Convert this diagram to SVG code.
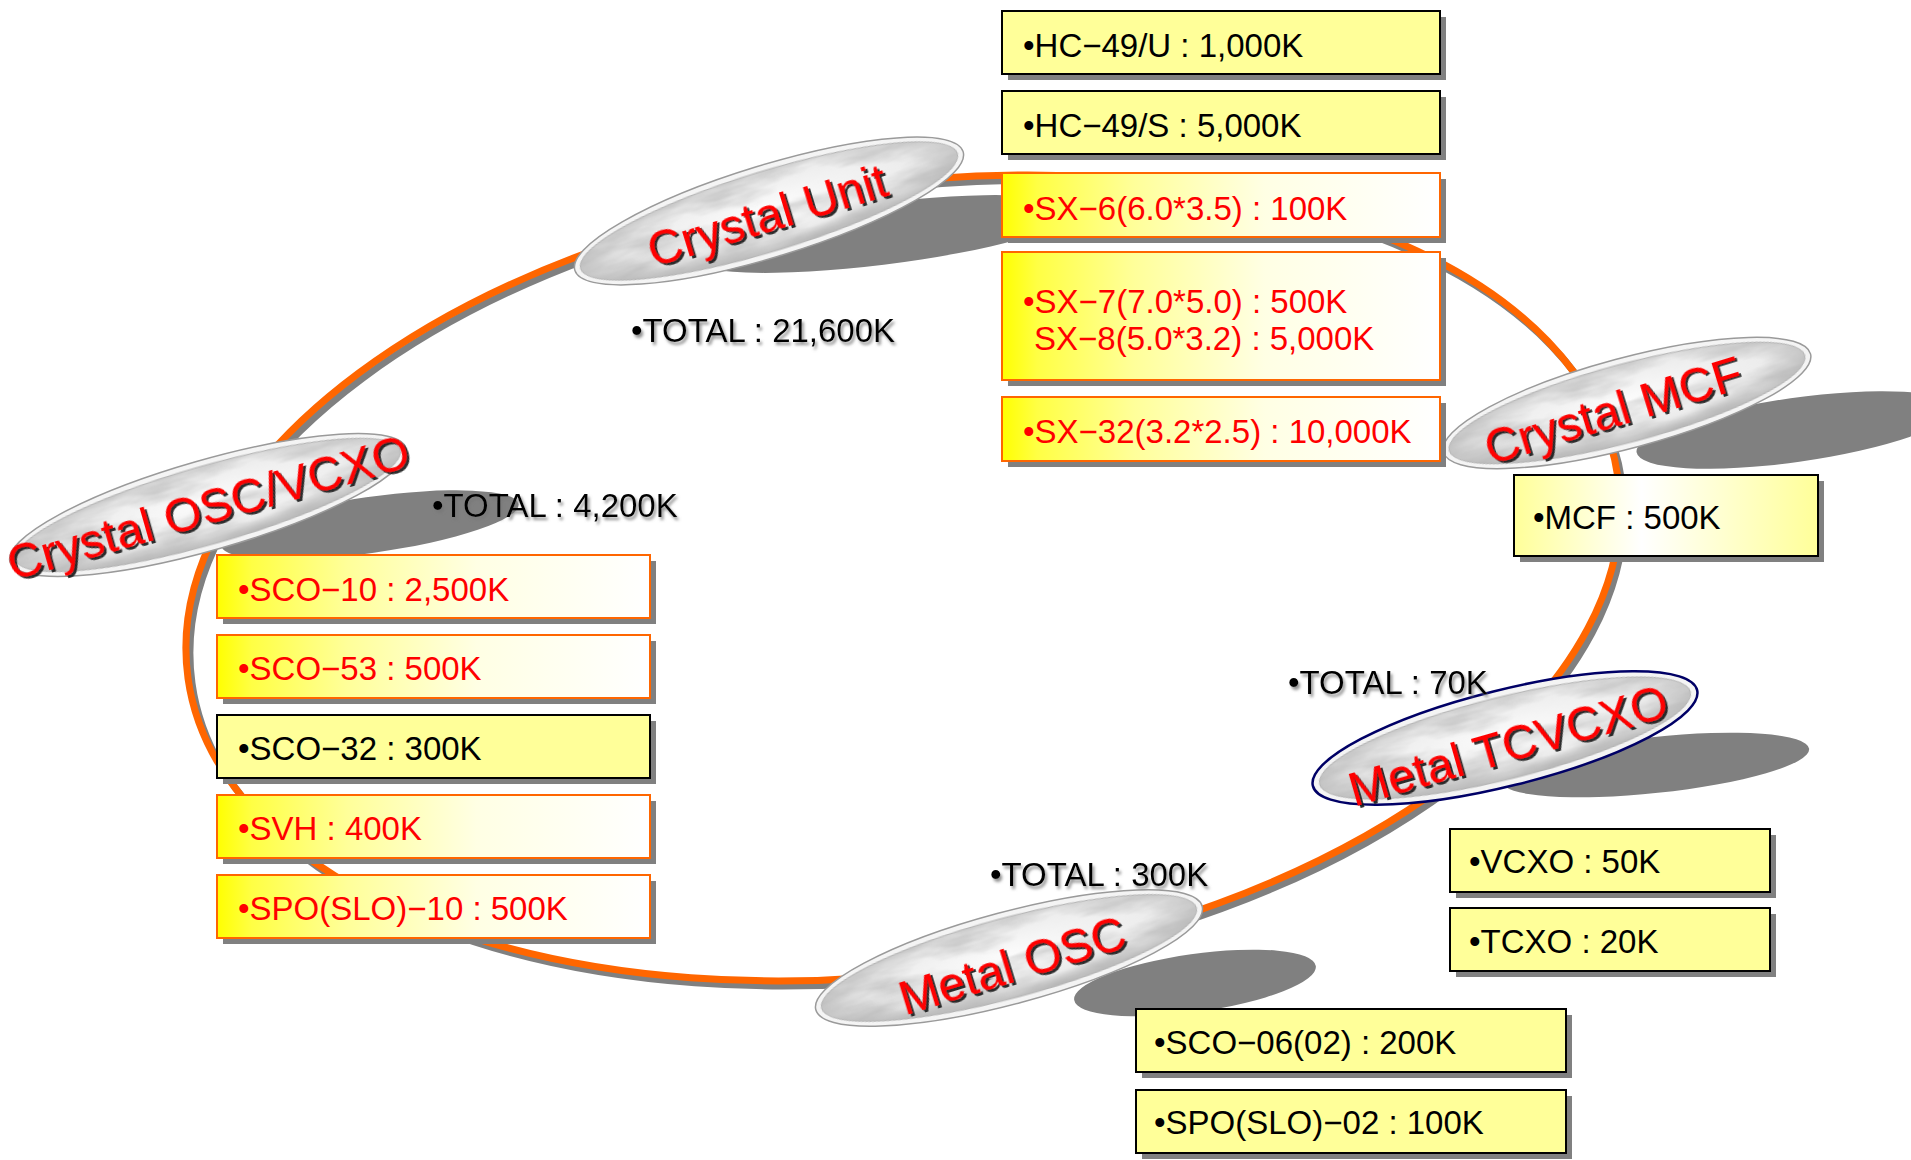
<svg xmlns="http://www.w3.org/2000/svg" width="1911" height="1160" viewBox="0 0 1911 1160">
<style>
.t{font-family:"Liberation Sans",Arial,sans-serif;font-size:33px}
.r{fill:#FF0000}
.k{fill:#000000}
.nt{font-family:"Liberation Sans",Arial,sans-serif;font-size:48px;fill:#FF0000;text-anchor:middle;filter:url(#tsh)}
.tot{font-family:"Liberation Sans",Arial,sans-serif;font-size:33px;fill:#000;filter:url(#soft)}
.bs{fill:#808080}
.by{fill:#FFFF99;stroke:#000;stroke-width:2}
.bo{fill:url(#gOr);stroke:#FF6600;stroke-width:2}
.bm{fill:url(#gMcf);stroke:#000;stroke-width:2}
.esh{fill:#808080}
.rim{fill:#f4f4f4;stroke:#9a9a9a;stroke-width:1.5}
.rimn{fill:#f4f4f4;stroke:#000066;stroke-width:2.5}
.inr{fill:url(#gMarb);stroke:#b4b4b4;stroke-width:1;filter:url(#marble)}
</style>
<defs>
<linearGradient id="gOr" x1="0" y1="0" x2="1" y2="0">
<stop offset="0" stop-color="#FFFF00"/>
<stop offset="0.08" stop-color="#FFFF44"/>
<stop offset="0.3" stop-color="#FFFF99"/>
<stop offset="0.6" stop-color="#FFFFE4"/>
<stop offset="1" stop-color="#FFFFFF"/>
</linearGradient>
<linearGradient id="gMcf" x1="0" y1="0" x2="1" y2="0">
<stop offset="0" stop-color="#FFFF99"/>
<stop offset="0.42" stop-color="#FFFFFF"/>
<stop offset="1" stop-color="#FFFF99"/>
</linearGradient>
<radialGradient id="gMarb" cx="0.5" cy="0.45" r="0.55">
<stop offset="0" stop-color="#fbfbfb"/>
<stop offset="0.7" stop-color="#ececec"/>
<stop offset="1" stop-color="#bdbdbd"/>
</radialGradient>
<filter id="marble" x="-5%" y="-5%" width="110%" height="110%">
<feTurbulence type="fractalNoise" baseFrequency="0.012 0.045" numOctaves="4" seed="7" result="n"/>
<feColorMatrix in="n" type="matrix" values="0 0 0 0 0.45 0 0 0 0 0.45 0 0 0 0 0.45 1.6 0 0 0 -0.62" result="spots"/>
<feComposite in="spots" in2="SourceGraphic" operator="in" result="s2"/>
<feMerge><feMergeNode in="SourceGraphic"/><feMergeNode in="s2"/></feMerge>
</filter>
<filter id="tsh" x="-10%" y="-20%" width="120%" height="150%">
<feOffset in="SourceAlpha" dx="2" dy="2.5" result="o"/>
<feFlood flood-color="#1a1a1a" flood-opacity="0.9"/>
<feComposite in2="o" operator="in" result="sh"/>
<feMerge><feMergeNode in="sh"/><feMergeNode in="SourceGraphic"/></feMerge>
</filter>
<filter id="soft" x="-10%" y="-30%" width="120%" height="170%">
<feGaussianBlur in="SourceAlpha" stdDeviation="1.5" result="b"/>
<feOffset in="b" dx="2" dy="3" result="o"/>
<feFlood flood-color="#777777" flood-opacity="0.8"/>
<feComposite in2="o" operator="in" result="sh"/>
<feMerge><feMergeNode in="sh"/><feMergeNode in="SourceGraphic"/></feMerge>
</filter>
</defs>
<rect width="1911" height="1160" fill="#FFFFFF"/>

<g id="connectors">
<ellipse cx="907" cy="583" rx="722" ry="394" transform="rotate(-8 907 583)" fill="none" stroke="#808080" stroke-width="7"/>
<ellipse cx="903" cy="578" rx="722" ry="394" transform="rotate(-8 903 578)" fill="none" stroke="#FF6600" stroke-width="7"/>
</g>

<g id="shadows">
<ellipse class="esh" cx="880" cy="234" rx="195" ry="31" transform="rotate(-7 880 234)"/>
<ellipse class="esh" cx="370" cy="525" rx="150" ry="28" transform="rotate(-8 370 525)"/>
<ellipse class="esh" cx="1795" cy="430" rx="160" ry="32" transform="rotate(-8 1795 430)"/>
<ellipse class="esh" cx="1655" cy="765" rx="155" ry="28" transform="rotate(-6 1655 765)"/>
<ellipse class="esh" cx="1195" cy="983" rx="122" ry="29" transform="rotate(-8 1195 983)"/>
</g>

<g id="node-crystal-unit">
<g transform="translate(769,211) rotate(-17)">
<ellipse class="rim" rx="203" ry="46"/>
<ellipse class="inr" rx="197" ry="40"/>
</g>
<text class="nt" transform="translate(767,215) rotate(-17)" y="17">Crystal Unit</text>
</g>

<g id="node-crystal-osc">
<g transform="translate(208,505) rotate(-16)">
<ellipse class="rim" rx="206" ry="45"/>
<ellipse class="inr" rx="200" ry="39"/>
</g>
<text class="nt" transform="translate(208,507) rotate(-16)" y="17">Crystal OSC/VCXO</text>
</g>

<g id="node-crystal-mcf">
<g transform="translate(1627,403) rotate(-15)">
<ellipse class="rim" rx="190" ry="45"/>
<ellipse class="inr" rx="184" ry="39"/>
</g>
<text class="nt" transform="translate(1613,410) rotate(-17)" y="17">Crystal MCF</text>
</g>

<g id="node-metal-tcvcxo">
<g transform="translate(1505,738) rotate(-14)">
<ellipse class="rimn" rx="198" ry="48"/>
<ellipse class="inr" rx="191" ry="41"/>
</g>
<text class="nt" transform="translate(1508,745) rotate(-16)" y="17">Metal TCVCXO</text>
</g>

<g id="node-metal-osc">
<g transform="translate(1009,958) rotate(-15)">
<ellipse class="rim" rx="200" ry="46"/>
<ellipse class="inr" rx="194" ry="40"/>
</g>
<text class="nt" transform="translate(1012,965) rotate(-17)" y="17">Metal OSC</text>
</g>

<g id="box-hc49u"><rect class="bs" x="1008" y="17" width="438" height="63"/><rect class="by" x="1002" y="11" width="438" height="63"/><text class="t k" x="1023" y="57">•HC−49/U : 1,000K</text></g>
<g id="box-hc49s"><rect class="bs" x="1008" y="97" width="438" height="63"/><rect class="by" x="1002" y="91" width="438" height="63"/><text class="t k" x="1023" y="137">•HC−49/S : 5,000K</text></g>
<g id="box-sx6"><rect class="bs" x="1008" y="179" width="438" height="64"/><rect class="bo" x="1002" y="173" width="438" height="64"/><text class="t r" x="1023" y="220">•SX−6(6.0*3.5) : 100K</text></g>
<g id="box-sx7"><rect class="bs" x="1008" y="258" width="438" height="128"/><rect class="bo" x="1002" y="252" width="438" height="128"/><text class="t r" x="1023" y="313">•SX−7(7.0*5.0) : 500K</text><text class="t r" x="1034" y="350">SX−8(5.0*3.2) : 5,000K</text></g>
<g id="box-sx32"><rect class="bs" x="1008" y="403" width="438" height="64"/><rect class="bo" x="1002" y="397" width="438" height="64"/><text class="t r" x="1023" y="443">•SX−32(3.2*2.5) : 10,000K</text></g>

<g id="box-mcf"><rect class="bs" x="1520" y="481" width="304" height="81"/><rect class="bm" x="1514" y="475" width="304" height="81"/><text class="t k" x="1533" y="529">•MCF : 500K</text></g>

<g id="box-sco10"><rect class="bs" x="223" y="561" width="433" height="63"/><rect class="bo" x="217" y="555" width="433" height="63"/><text class="t r" x="238" y="601">•SCO−10 : 2,500K</text></g>
<g id="box-sco53"><rect class="bs" x="223" y="641" width="433" height="63"/><rect class="bo" x="217" y="635" width="433" height="63"/><text class="t r" x="238" y="680">•SCO−53 : 500K</text></g>
<g id="box-sco32"><rect class="bs" x="223" y="721" width="433" height="63"/><rect class="by" x="217" y="715" width="433" height="63"/><text class="t k" x="238" y="760">•SCO−32 : 300K</text></g>
<g id="box-svh"><rect class="bs" x="223" y="801" width="433" height="63"/><rect class="bo" x="217" y="795" width="433" height="63"/><text class="t r" x="238" y="840">•SVH : 400K</text></g>
<g id="box-spo10"><rect class="bs" x="223" y="881" width="433" height="63"/><rect class="bo" x="217" y="875" width="433" height="63"/><text class="t r" x="238" y="920">•SPO(SLO)−10 : 500K</text></g>

<g id="box-vcxo"><rect class="bs" x="1456" y="835" width="320" height="63"/><rect class="by" x="1450" y="829" width="320" height="63"/><text class="t k" x="1469" y="873">•VCXO : 50K</text></g>
<g id="box-tcxo"><rect class="bs" x="1456" y="914" width="320" height="63"/><rect class="by" x="1450" y="908" width="320" height="63"/><text class="t k" x="1469" y="953">•TCXO : 20K</text></g>

<g id="box-sco06"><rect class="bs" x="1142" y="1015" width="430" height="63"/><rect class="by" x="1136" y="1009" width="430" height="63"/><text class="t k" x="1154" y="1054">•SCO−06(02) : 200K</text></g>
<g id="box-spo02"><rect class="bs" x="1142" y="1096" width="430" height="63"/><rect class="by" x="1136" y="1090" width="430" height="63"/><text class="t k" x="1154" y="1134">•SPO(SLO)−02 : 100K</text></g>

<g id="totals">
<text class="tot" x="631" y="342">•TOTAL : 21,600K</text>
<text class="tot" x="432" y="517">•TOTAL : 4,200K</text>
<text class="tot" x="1288" y="694">•TOTAL : 70K</text>
<text class="tot" x="990" y="886">•TOTAL : 300K</text>
</g>
</svg>
